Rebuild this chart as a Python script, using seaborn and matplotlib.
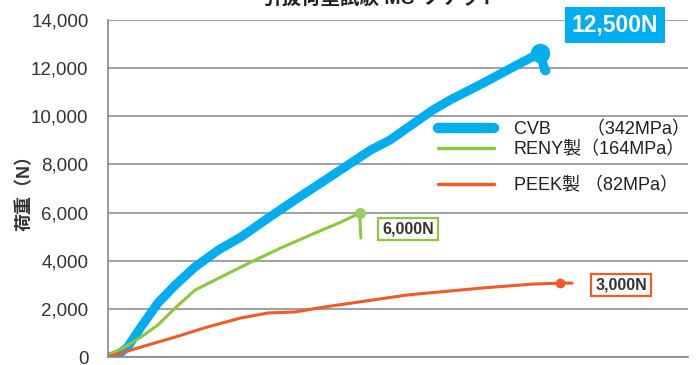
import numpy as np
import pandas as pd
import seaborn as sns
import matplotlib.pyplot as plt
from matplotlib.lines import Line2D

# displacement (arbitrary units along the unlabeled x axis) and load in N
cvb_x = [0, 1.7, 3.4, 5.7, 8.6, 11.6, 15.0, 19.0, 22.9, 27.6, 32.2, 36.7, 41.4, 45.3, 48.6,
         56.0, 59.0, 64.7, 70.5, 74.5, 75.3]
cvb_y = [0, 83, 415, 1250, 2240, 2990, 3740, 4440, 4980, 5770, 6520, 7230, 7980, 8600, 9010,
         10260, 10680, 11380, 12130, 12630, 11920]

reny_x = [0, 2.9, 5.7, 8.6, 11.6, 15.0, 20.2, 24.7, 29.8, 35.7, 40.2, 43.4, 43.6]
reny_y = [80, 415, 830, 1330, 2040, 2780, 3410, 3950, 4530, 5150, 5610, 5980, 4940]

peek_x = [0, 5.7, 11.6, 17.2, 22.9, 27.6, 32.2, 37.4, 43.1, 51.7, 64.7, 73.3, 77.9, 80.0]
peek_y = [0, 415, 830, 1250, 1620, 1830, 1870, 2080, 2280, 2580, 2870, 3030, 3070, 3070]

labels = ["CVB\u3000\u3000（342MPa）", "RENY製（164MPa）", "PEEK製 （82MPa）"]
peak_labels = ["12,500N", "6,000N", "3,000N"]
yticks = [0, 2000, 4000, 6000, 8000, 10000, 12000, 14000]

colors = ["#00aeef", "#8dc63f", "#f15a29"]
dot_colors = ["#00aeef", "#9ccf62", "#f15a29"]
widths = [6.5, 2.2, 2.2]

sns.set_theme(style="white")
plt.rcParams['font.family'] = ['Liberation Sans', 'Noto Sans CJK JP', 'DejaVu Sans']

fig = plt.figure(figsize=(6.99, 3.65), dpi=100)
ax = fig.add_axes([108 / 699, 1 - 357 / 365, 580 / 699, 337 / 365])

series = [(cvb_x, cvb_y), (reny_x, reny_y), (peek_x, peek_y)]
for (xs, ys), lab, c, w in zip(series, labels, colors, widths):
    df = pd.DataFrame({"x": xs, "y": ys})
    sns.lineplot(data=df, x="x", y="y", ax=ax, color=c, linewidth=w, sort=False,
                 estimator=None, solid_capstyle="round", solid_joinstyle="round", legend=False)

# end-point dots
ax.plot(cvb_x[-2], cvb_y[-2], "o", color=dot_colors[0], markersize=13, zorder=5)
ax.plot(cvb_x[-1], cvb_y[-1], "o", color=dot_colors[0], markersize=6, zorder=5)
ax.plot(reny_x[-2], reny_y[-2], "o", color=dot_colors[1], markersize=7, zorder=5)
ax.plot(peek_x[-2], peek_y[-2], "o", color=dot_colors[2], markersize=6, zorder=5)

ax.set_xlim(0, 100)
ax.set_ylim(0, 14000)
ax.set_yticks(yticks)
ax.set_yticklabels([f"{v:,}" for v in yticks], fontsize=13.5, color="#333333")
ax.set_xticks([])
ax.set_xlabel("")
ax.set_ylabel("荷重（N）", fontsize=13, fontweight="bold", color="#333333")
ax.yaxis.set_label_coords(-0.128, 0.5)
ax.yaxis.grid(True, color="#999999", linewidth=1.3)
ax.tick_params(axis="y", length=0, pad=14)
for s in ["top", "right"]:
    ax.spines[s].set_visible(False)
for s in ["left", "bottom"]:
    ax.spines[s].set_color("#888888")
    ax.spines[s].set_linewidth(1.2)

# legend split in two blocks like the original
h1 = [Line2D([0], [0], color=colors[0], linewidth=7.5, solid_capstyle="round"),
      Line2D([0], [0], color=colors[1], linewidth=2.5, solid_capstyle="round")]
h2 = [Line2D([0], [0], color=colors[2], linewidth=2.5, solid_capstyle="round")]
leg_kw = dict(frameon=False, loc="upper left", borderpad=0, borderaxespad=0,
              handlelength=3.1, handletextpad=1.1, bbox_transform=fig.transFigure,
              prop={"size": 13})
leg1 = ax.legend(h1, labels[:2], bbox_to_anchor=(438 / 699, 1 - 121 / 365), labelspacing=0.15, **leg_kw)
for t in leg1.get_texts():
    t.set_color("#231f20")
ax.add_artist(leg1)
leg2 = ax.legend(h2, labels[2:], bbox_to_anchor=(438 / 699, 1 - 177 / 365), **leg_kw)
for t in leg2.get_texts():
    t.set_color("#231f20")

# peak value boxes
fig.text(615 / 699, 1 - 25 / 365, peak_labels[0], ha="center", va="center", fontsize=16.5,
         fontweight="bold", color="white",
         bbox=dict(boxstyle="square,pad=0.3", facecolor=colors[0], edgecolor="none"))
fig.text(408 / 699, 1 - 229 / 365, peak_labels[1], ha="center", va="center", fontsize=11.5,
         fontweight="bold", color="#333333",
         bbox=dict(boxstyle="square,pad=0.25", facecolor="white", edgecolor=colors[1], linewidth=1.6))
fig.text(621 / 699, 1 - 285 / 365, peak_labels[2], ha="center", va="center", fontsize=11.5,
         fontweight="bold", color="#333333",
         bbox=dict(boxstyle="square,pad=0.25", facecolor="white", edgecolor=colors[2], linewidth=1.6))

# title, cut off at the top edge in the original
fig.text(381 / 699, 1 - 4 / 365, "引抜荷重試験 MC-ソケット", ha="center", va="baseline",
         fontsize=14, fontweight="bold", color="#231f20")

fig.savefig("out.png", dpi=100)
